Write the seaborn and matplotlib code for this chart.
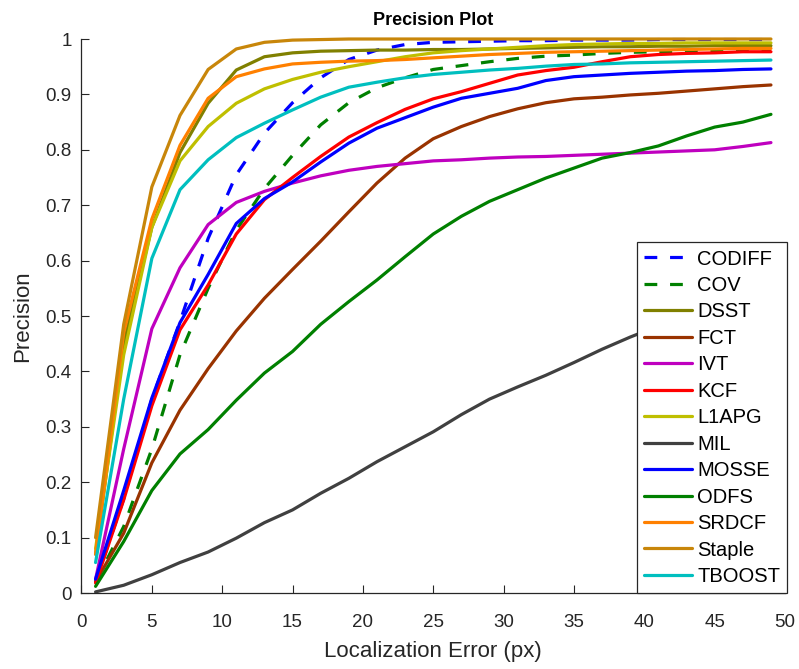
import numpy as np
import pandas as pd
import matplotlib
matplotlib.use("Agg")
import matplotlib.pyplot as plt
import seaborn as sns

# ---------------- data ----------------
error_px = [1, 3, 5, 7, 9, 11, 13, 15, 17, 19, 21, 23, 25, 27, 29, 31, 33, 35, 37, 39, 41, 43, 45, 47, 49]

trackers = ["CODIFF", "COV", "DSST", "FCT", "IVT", "KCF", "L1APG", "MIL",
            "MOSSE", "ODFS", "SRDCF", "Staple", "TBOOST"]

codiff = [0.02, 0.17, 0.35, 0.49, 0.64, 0.755, 0.83, 0.885, 0.93, 0.963, 0.98, 0.99, 0.994,
          0.995, 0.996, 0.997, 0.997, 0.998, 0.998, 0.998, 0.999, 0.999, 0.999, 0.999, 0.999]
cov = [0.02, 0.12, 0.26, 0.43, 0.55, 0.655, 0.73, 0.79, 0.845, 0.885, 0.912, 0.93, 0.945,
       0.952, 0.959, 0.965, 0.969, 0.971, 0.974, 0.976, 0.977, 0.978, 0.979, 0.98, 0.981]
dsst = [0.07, 0.45, 0.66, 0.795, 0.884, 0.944, 0.968, 0.975, 0.978, 0.979, 0.98, 0.98, 0.981,
        0.981, 0.982, 0.983, 0.984, 0.985, 0.986, 0.986, 0.987, 0.987, 0.988, 0.988, 0.988]
fct = [0.02, 0.108, 0.235, 0.33, 0.405, 0.473, 0.532, 0.584, 0.635, 0.688, 0.74, 0.785, 0.82,
       0.842, 0.86, 0.874, 0.885, 0.892, 0.895, 0.899, 0.902, 0.906, 0.91, 0.914, 0.917]
ivt = [0.025, 0.26, 0.477, 0.587, 0.665, 0.705, 0.725, 0.74, 0.753, 0.763, 0.77, 0.775, 0.78,
       0.782, 0.785, 0.787, 0.788, 0.79, 0.792, 0.794, 0.796, 0.798, 0.80, 0.806, 0.813]
kcf = [0.018, 0.168, 0.338, 0.475, 0.556, 0.648, 0.71, 0.75, 0.788, 0.823, 0.849, 0.873, 0.892,
       0.905, 0.92, 0.935, 0.943, 0.949, 0.959, 0.968, 0.972, 0.974, 0.975, 0.977, 0.977]
l1apg = [0.08, 0.43, 0.66, 0.78, 0.842, 0.884, 0.91, 0.927, 0.94, 0.95, 0.959, 0.968, 0.975,
         0.979, 0.982, 0.985, 0.988, 0.99, 0.991, 0.992, 0.992, 0.993, 0.993, 0.993, 0.993]
mil = [0.002, 0.014, 0.033, 0.055, 0.074, 0.099, 0.127, 0.15, 0.18, 0.207, 0.237, 0.264, 0.291,
       0.322, 0.35, 0.372, 0.393, 0.416, 0.44, 0.462, 0.482, 0.502, 0.522, 0.542, 0.562]
mosse = [0.025, 0.185, 0.352, 0.488, 0.575, 0.667, 0.712, 0.742, 0.778, 0.812, 0.839, 0.858, 0.877,
         0.893, 0.902, 0.911, 0.925, 0.932, 0.935, 0.938, 0.94, 0.942, 0.943, 0.945, 0.946]
odfs = [0.012, 0.093, 0.185, 0.251, 0.295, 0.348, 0.397, 0.436, 0.485, 0.526, 0.565, 0.607, 0.648,
        0.68, 0.707, 0.728, 0.749, 0.767, 0.785, 0.795, 0.807, 0.825, 0.841, 0.85, 0.864]
srdcf = [0.07, 0.47, 0.675, 0.808, 0.893, 0.932, 0.946, 0.955, 0.958, 0.96, 0.961, 0.963, 0.966,
         0.969, 0.972, 0.974, 0.976, 0.977, 0.978, 0.979, 0.98, 0.981, 0.982, 0.983, 0.983]
staple = [0.10, 0.485, 0.733, 0.862, 0.945, 0.982, 0.994, 0.998, 0.999, 1.0, 1.0, 1.0, 1.0,
          1.0, 1.0, 1.0, 1.0, 1.0, 1.0, 1.0, 1.0, 1.0, 1.0, 1.0, 1.0]
tboost = [0.055, 0.35, 0.604, 0.728, 0.782, 0.822, 0.848, 0.872, 0.895, 0.913, 0.922, 0.93, 0.936,
          0.94, 0.944, 0.947, 0.951, 0.954, 0.955, 0.957, 0.958, 0.959, 0.96, 0.961, 0.962]

series = [codiff, cov, dsst, fct, ivt, kcf, l1apg, mil, mosse, odfs, srdcf, staple, tboost]

x_ticks = [0, 5, 10, 15, 20, 25, 30, 35, 40, 45, 50]
y_ticks = [0, 0.1, 0.2, 0.3, 0.4, 0.5, 0.6, 0.7, 0.8, 0.9, 1.0]
y_tick_labels = ["0", "0.1", "0.2", "0.3", "0.4", "0.5", "0.6", "0.7", "0.8", "0.9", "1"]

# ---------------- styles ----------------
colors = {
    "CODIFF": "#0000ff", "COV": "#008000", "DSST": "#808000", "FCT": "#993300",
    "IVT": "#bf00bf", "KCF": "#ff0000", "L1APG": "#bfbf00", "MIL": "#404040",
    "MOSSE": "#0000ff", "ODFS": "#008000", "SRDCF": "#ff8000", "Staple": "#c8860a",
    "TBOOST": "#00bfbf",
}
dash_map = {t: "" for t in trackers}
dash_map["CODIFF"] = (4, 4)
dash_map["COV"] = (4, 4)

df = pd.DataFrame({
    "Localization Error (px)": np.tile(error_px, len(trackers)),
    "Precision": np.concatenate([np.asarray(s, dtype=float) for s in series]),
    "Tracker": np.repeat(trackers, len(error_px)),
})

sns.set_theme(style="white")
plt.rcParams["font.family"] = ["Liberation Sans", "DejaVu Sans"]

fig = plt.figure(figsize=(7.99, 6.69), dpi=100)
ax = fig.add_axes([0.102, 0.1136, 0.8805, 0.8281])

sns.lineplot(data=df, x="Localization Error (px)", y="Precision", hue="Tracker",
             style="Tracker", hue_order=trackers, style_order=trackers,
             palette=colors, dashes=dash_map, linewidth=2.3, ax=ax,
             legend=False, estimator=None, sort=False)

for ln in ax.get_lines():
    ln.set_clip_on(False)
    ln.set_solid_joinstyle("round")

ax.set_xlim(0, 50)
ax.set_ylim(0, 1)
ax.set_xticks(x_ticks)
ax.set_yticks(y_ticks)
ax.set_yticklabels(y_tick_labels)

axcol = "#262626"
for side in ["top", "right"]:
    ax.spines[side].set_visible(False)
for side in ["left", "bottom"]:
    ax.spines[side].set_visible(True)
    ax.spines[side].set_color(axcol)
    ax.spines[side].set_linewidth(0.9)

ax.tick_params(axis="both", direction="in", length=5.5, width=0.8, colors=axcol,
               labelsize=13.5, labelcolor=axcol, bottom=True, left=True)
ax.tick_params(axis="x", pad=15)
ax.tick_params(axis="y", pad=7)

ax.set_xlabel("Localization Error (px)", fontsize=16, color=axcol, labelpad=7)
ax.set_ylabel("Precision", fontsize=16, color=axcol, labelpad=9)
ax.set_title("Precision Plot", fontsize=13, fontweight="bold", color="black", pad=10)

handles = [plt.Line2D([], [], color=colors[t], linewidth=2.3,
                      linestyle=(0, dash_map[t]) if dash_map[t] else "-")
           for t in trackers]
leg = ax.legend(handles, trackers, loc="lower right", fontsize=14.5, frameon=True,
                fancybox=False, framealpha=1, edgecolor=axcol, handlelength=2.4,
                handletextpad=0.25, labelspacing=0.37, borderaxespad=0.0,
                borderpad=0.35, bbox_to_anchor=(1.003, 0.0))
leg.get_frame().set_linewidth(0.9)
for t in leg.get_texts():
    t.set_color("black")

fig.savefig("out.png", dpi=100)
